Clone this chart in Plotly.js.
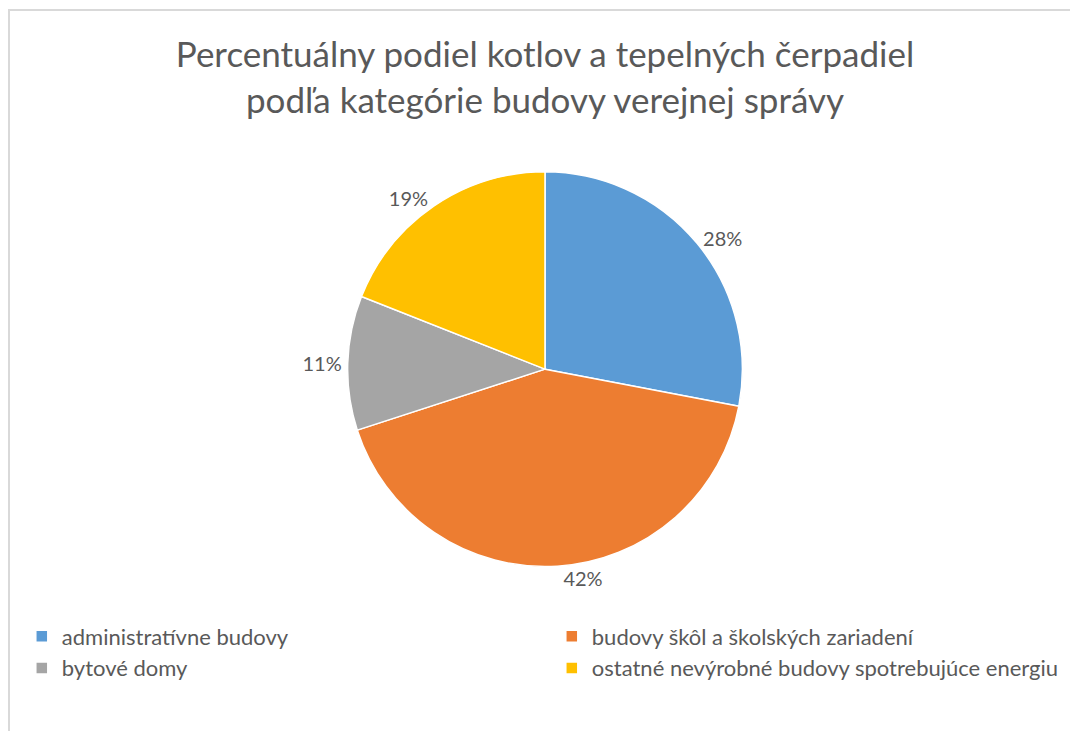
<!DOCTYPE html>
<html>
<head>
<meta charset="utf-8">
<script src="https://cdn.plot.ly/plotly-3.0.1.min.js"></script>
<style>
  html, body { margin: 0; padding: 0; background: #fff; overflow: hidden; width: 1070px; height: 731px; }
  #frame { position: absolute; left: 8px; top: 9px; width: 1200px; height: 900px;
           border-left: 2px solid #d9d9d9; border-top: 2px solid #d9d9d9; }
  #chart { position: absolute; left: 0; top: 0; width: 1090px; height: 731px; }
</style>
</head>
<body>
<div id="frame"></div>
<div id="chart"></div>
<script>
const categories = [
  "administratívne budovy",
  "budovy škôl a školských zariadení",
  "bytové domy",
  "ostatné nevýrobné budovy spotrebujúce energiu"
];
const shares = [28, 42, 11, 19];
const colors = ["#5B9BD5", "#ED7D31", "#A5A5A5", "#FFC000"];
const titleLines = ["Percentuálny podiel kotlov a tepelných čerpadiel", "podľa kategórie budovy verejnej správy"];

const FONT = "Lato, 'Open Sans', sans-serif";
const TXT = "#595959";

const trace = {
  type: "pie",
  labels: categories,
  values: shares,
  sort: false,
  direction: "clockwise",
  rotation: 0,
  marker: { colors: colors, line: { color: "#ffffff", width: 1.5 } },
  textinfo: "percent",
  texttemplate: "%{percent:.0%}",
  textposition: "outside",
  outsidetextfont: { family: FONT, size: 20, color: TXT },
  automargin: false,
  domain: { x: [0.196, 0.804], y: [0.225, 0.765] },
  hoverinfo: "label+percent"
};

const layout = {
  width: 1090,
  height: 731,
  paper_bgcolor: "rgba(0,0,0,0)",
  plot_bgcolor: "rgba(0,0,0,0)",
  margin: { l: 0, r: 0, t: 0, b: 0 },
  font: { family: FONT, color: TXT },
  title: {
    text: titleLines.join("<br>"),
    x: 0.5, xanchor: "center",
    y: 0.908, yanchor: "top",
    font: { family: FONT, size: 35, color: TXT }
  },
  showlegend: true,
  legend: {
    orientation: "h",
    x: 0.02, xanchor: "left",
    y: 0.158, yanchor: "top",
    entrywidth: 485, entrywidthmode: "pixels",
    font: { family: FONT, size: 22, color: TXT },
    traceorder: "normal"
  }
};

Plotly.newPlot("chart", [trace], layout, { displayModeBar: false, staticPlot: true });
</script>
</body>
</html>
